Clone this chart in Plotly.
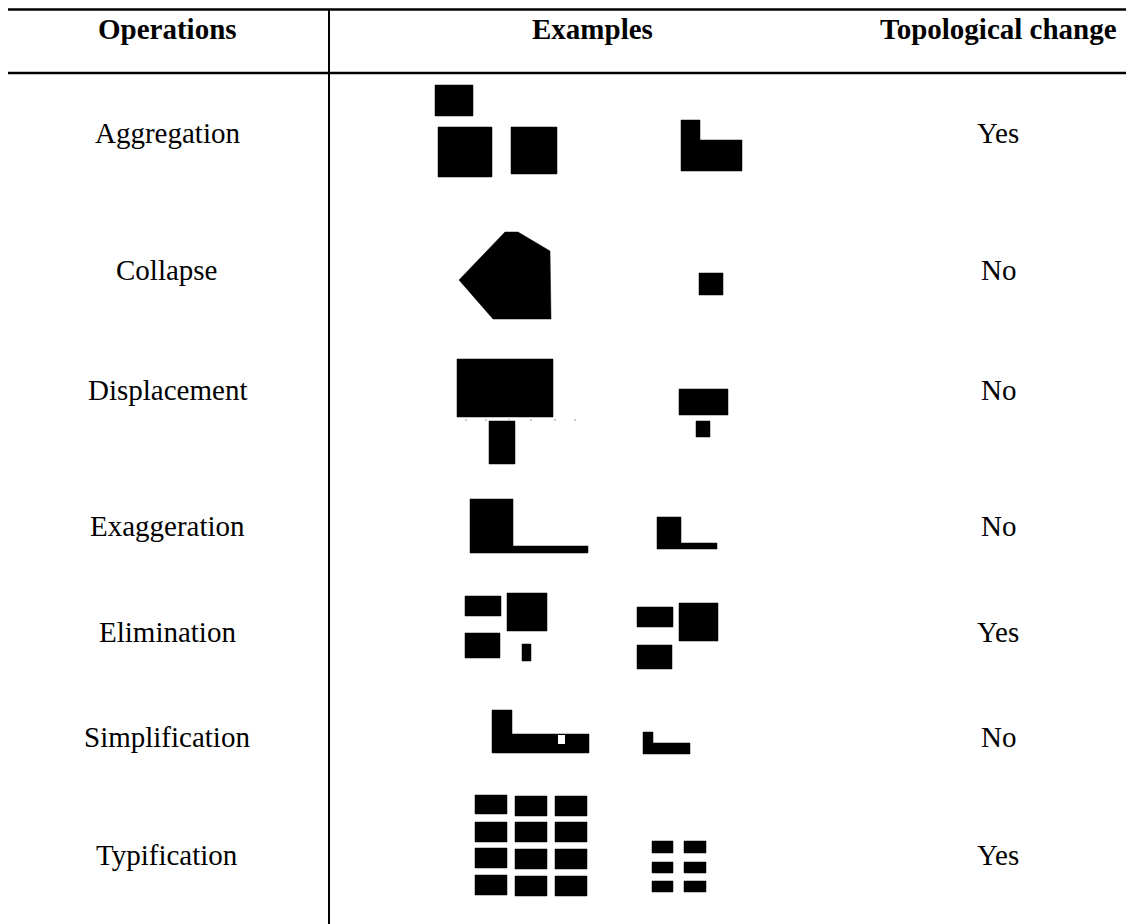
import plotly.graph_objects as go

W, H = 1134, 924
PAGE_OFFSET = 8  # browser default body margin

# Table content
headers = ["Operations", "Examples", "Topological change"]
header_x = [167, 592, 998]
header_y = 29
operations = ["Aggregation", "Collapse", "Displacement", "Exaggeration",
              "Elimination", "Simplification", "Typification"]
topological = ["Yes", "No", "No", "No", "Yes", "No", "Yes"]
row_y = [133, 270, 390, 526, 632, 737, 855]
op_x = 167
topo_x = 998

# Example shapes (pixel-space rectangles: x0, y0, x1, y1)
rects = [
    # Aggregation - before
    (435, 85, 473, 116), (438, 127, 492, 177), (511, 127, 557, 174),
    # Collapse - after
    (699, 273, 723, 295),
    # Displacement - before / after
    (457, 359, 553, 417), (489, 421, 515, 464),
    (679, 389, 728, 415), (696, 421, 710, 437),
    # Elimination - before / after
    (465, 596, 501, 616), (507, 593, 547, 631), (465, 633, 500, 658), (522, 644, 531, 661),
    (637, 607, 673, 627), (679, 603, 718, 641), (637, 645, 672, 669),
    # Typification - before (3 x 4)
    (475, 795, 507, 814), (515, 796, 547, 816), (555, 796, 587, 816),
    (475, 822, 507, 842), (515, 822, 547, 842), (555, 822, 587, 842),
    (475, 848, 507, 868), (515, 849, 547, 869), (555, 849, 587, 869),
    (475, 875, 507, 895), (515, 876, 547, 896), (555, 876, 587, 896),
    # Typification - after (2 x 3)
    (652, 841, 673, 853), (684, 841, 706, 853),
    (652, 862, 673, 873), (684, 862, 706, 873),
    (652, 881, 673, 892), (684, 881, 706, 892),
]

# Polygons (list of vertex lists)
polygons = [
    # Aggregation - after (L shape)
    [(681, 120), (700, 120), (700, 140), (742, 140), (742, 171), (681, 171)],
    # Collapse - before (pentagon-like building)
    [(459, 280), (505, 232), (518, 232), (550, 251), (551, 319), (493, 319)],
    # Exaggeration - before / after
    [(470, 499), (513, 499), (513, 546), (588, 546), (588, 553), (470, 553)],
    [(657, 517), (681, 517), (681, 543), (717, 543), (717, 549), (657, 549)],
    # Simplification - before / after
    [(492, 710), (512, 710), (512, 734), (589, 734), (589, 753), (492, 753)],
    [(643, 732), (653, 732), (653, 743), (690, 743), (690, 754), (643, 754)],
]
white_notch = [(558, 735), (565, 735), (565, 744), (558, 744)]

faint_dots_x = [466, 486, 509, 531, 555, 575]
faint_dots_y = [420, 420, 420, 420, 420, 420]

fig = go.Figure()

def poly_xy(polys):
    xs, ys = [], []
    for p in polys:
        for (x, y) in p:
            xs.append(x); ys.append(y)
        xs.append(p[0][0]); ys.append(p[0][1])
        xs.append(None); ys.append(None)
    return xs, ys

rect_polys = [[(a, b), (c, b), (c, d), (a, d)] for (a, b, c, d) in rects]
xs, ys = poly_xy(rect_polys + polygons)
fig.add_trace(go.Scatter(x=xs, y=ys, mode="lines", fill="toself",
                         fillcolor="black", line=dict(color="black", width=0.5),
                         hoverinfo="skip", showlegend=False))
xs, ys = poly_xy([white_notch])
fig.add_trace(go.Scatter(x=xs, y=ys, mode="lines", fill="toself",
                         fillcolor="white", line=dict(color="white", width=0),
                         hoverinfo="skip", showlegend=False))
fig.add_trace(go.Scatter(x=faint_dots_x, y=faint_dots_y, mode="markers",
                         marker=dict(color="#cccccc", size=2, symbol="square"),
                         hoverinfo="skip", showlegend=False))

# Table rules
fig.add_shape(type="line", x0=6, x1=W + 10, y0=9.5, y1=9.5, xref="x", yref="y",
              line=dict(color="black", width=2.5))
fig.add_shape(type="line", x0=6, x1=W + 10, y0=73, y1=73, xref="x", yref="y",
              line=dict(color="black", width=2.5))
fig.add_shape(type="line", x0=329, x1=329, y0=9, y1=H + 10, xref="x", yref="y",
              line=dict(color="black", width=2))

font_reg = dict(family="Liberation Serif, Times New Roman, serif", size=29, color="black")

for h, hx in zip(headers, header_x):
    fig.add_annotation(x=hx, y=header_y, text="<b>" + h + "</b>", showarrow=False,
                       xref="x", yref="y", font=font_reg, xanchor="center", yanchor="middle")
for op, t, y in zip(operations, topological, row_y):
    fig.add_annotation(x=op_x, y=y, text=op, showarrow=False, xref="x", yref="y",
                       font=font_reg, xanchor="center", yanchor="middle")
    fig.add_annotation(x=topo_x, y=y, text=t, showarrow=False, xref="x", yref="y",
                       font=font_reg, xanchor="center", yanchor="middle")

fig.update_layout(
    width=W, height=H, margin=dict(l=0, r=0, t=0, b=0),
    paper_bgcolor="white", plot_bgcolor="white",
    xaxis=dict(range=[PAGE_OFFSET, W + PAGE_OFFSET], visible=False, fixedrange=True),
    yaxis=dict(range=[H + PAGE_OFFSET, PAGE_OFFSET], visible=False, fixedrange=True),
)

fig.write_html("out.html")
